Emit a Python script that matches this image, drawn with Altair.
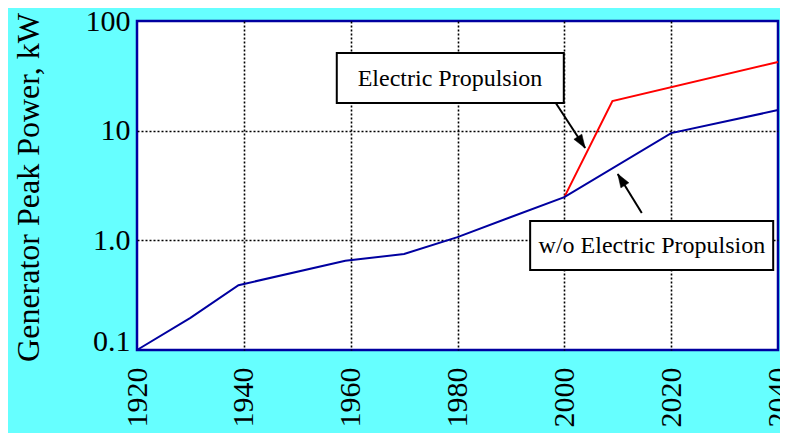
import altair as alt
import pandas as pd

# ---- data ----
blue_years = [1920, 1930, 1939, 1959, 1970, 1980, 2000, 2020, 2040]
blue_values = [0.1, 0.196, 0.39, 0.65, 0.75, 1.07, 2.48, 9.5, 15.4]

red_years = [2000, 2009, 2040]
red_values = [2.48, 18.6, 42.3]

box_labels = ["Electric Propulsion", "w/o Electric Propulsion"]
box_x1 = [1957.4, 1993.6]
box_x2 = [1999.9, 2039.1]
box_y1 = [51.1, 1.50]
box_y2 = [17.9, 0.536]
text_x = [1978.6, 2016.4]
text_y = [25.5, 0.766]

arrow_tail_x = [1998.4, 2014.5]
arrow_tail_y = [17.9, 1.775]
arrow_tip_x = [2003.9, 2010.0]
arrow_tip_y = [6.95, 4.03]

x_ticks = [1920, 1940, 1960, 1980, 2000, 2020, 2040]
y_ticks = [0.1, 1, 10, 100]

FONT = "Times New Roman, Liberation Serif, Times, serif"
NAVY = "#0000A0"

blue_df = pd.DataFrame({"year": blue_years, "power": blue_values})
red_df = pd.DataFrame({"year": red_years, "power": red_values})
box_df = pd.DataFrame({"label": box_labels, "x1": box_x1, "x2": box_x2,
                       "y1": box_y1, "y2": box_y2, "tx": text_x, "ty": text_y})
arrow_df = pd.DataFrame({"x": arrow_tail_x, "y": arrow_tail_y,
                         "x2": arrow_tip_x, "y2": arrow_tip_y})

xscale = alt.Scale(domain=[1920, 2040], nice=False, zero=False)
yscale = alt.Scale(type="log", domain=[0.1, 100], nice=False)

xaxis = alt.Axis(
    values=x_ticks, title=None, labelAngle=270, labelAlign="right",
    labelBaseline="middle", labelPadding=17, labelFontSize=30,
    labelFont=FONT, labelColor="black", ticks=False, domain=False,
    grid=True, gridDash=[2, 2], gridWidth=1.6,
    gridColor={"condition": {"test": "datum.value == 1920 || datum.value == 2040",
                             "value": "transparent"}, "value": "black"},
    format="d", labelFlush=False, labelOverlap=False,
)
yaxis = alt.Axis(
    values=y_ticks, title="Generator Peak Power, kW",
    labelExpr="datum.value == 1 ? '1.0' : (datum.value < 0.5 ? '0.1' : format(datum.value, 'd'))",
    labelFontSize=30, labelFont=FONT, labelColor="black", labelPadding=7,
    labelBaseline={"condition": {"test": "datum.value < 0.5", "value": "alphabetic"},
                   "value": "middle"},
    ticks=False, domain=False, grid=True, gridDash=[2, 2], gridWidth=1.6,
    gridColor={"condition": {"test": "datum.value < 0.5 || datum.value > 50",
                             "value": "transparent"}, "value": "black"},
    labelFlush=False, labelOverlap=False,
    titleFont=FONT, titleFontSize=32, titleFontWeight="normal", titleColor="black",
    titleAngle=270, titleAlign="center", titleBaseline="top",
    titleX=-124, titleY=166,
)

blue = alt.Chart(blue_df).mark_line(color=NAVY, strokeWidth=2).encode(
    x=alt.X("year:Q", scale=xscale, axis=xaxis),
    y=alt.Y("power:Q", scale=yscale, axis=yaxis),
)
red = alt.Chart(red_df).mark_line(color="#FF0000", strokeWidth=2).encode(
    x=alt.X("year:Q", scale=xscale),
    y=alt.Y("power:Q", scale=yscale),
)
boxes = alt.Chart(box_df).mark_rect(fill="white", stroke="black", strokeWidth=2).encode(
    x=alt.X("x1:Q", scale=xscale), x2="x2:Q",
    y=alt.Y("y1:Q", scale=yscale), y2="y2:Q",
)
texts = alt.Chart(box_df).mark_text(font=FONT, fontSize=24, color="black",
                                    align="center", baseline="alphabetic").encode(
    x=alt.X("tx:Q", scale=xscale), y=alt.Y("ty:Q", scale=yscale), text="label:N",
)
rules = alt.Chart(arrow_df).mark_rule(color="black", strokeWidth=2).encode(
    x=alt.X("x:Q", scale=xscale), x2="x2:Q",
    y=alt.Y("y:Q", scale=yscale), y2="y2:Q",
)
HEAD = "M0,0L-0.7,2L0.7,2Z"
head1 = alt.Chart(arrow_df.iloc[[0]]).mark_point(
    shape=HEAD, filled=True, fill="black", stroke="black", strokeWidth=0.5,
    size=180, opacity=1, angle=147).encode(
    x=alt.X("x2:Q", scale=xscale), y=alt.Y("y2:Q", scale=yscale))
head2 = alt.Chart(arrow_df.iloc[[1]]).mark_point(
    shape=HEAD, filled=True, fill="black", stroke="black", strokeWidth=0.5,
    size=180, opacity=1, angle=328).encode(
    x=alt.X("x2:Q", scale=xscale), y=alt.Y("y2:Q", scale=yscale))

chart = alt.layer(red, blue, rules, head1, head2, boxes, texts).properties(
    width=641, height=329,
    autosize=alt.AutoSizeParams(type="none"),
    padding={"left": 129, "top": 13, "right": 2, "bottom": 83},
    background="#66FFFF",
).configure_view(
    fill="white", stroke=NAVY, strokeWidth=2.5,
)

chart.save("out.html", embed_options={"renderer": "svg", "actions": False})
